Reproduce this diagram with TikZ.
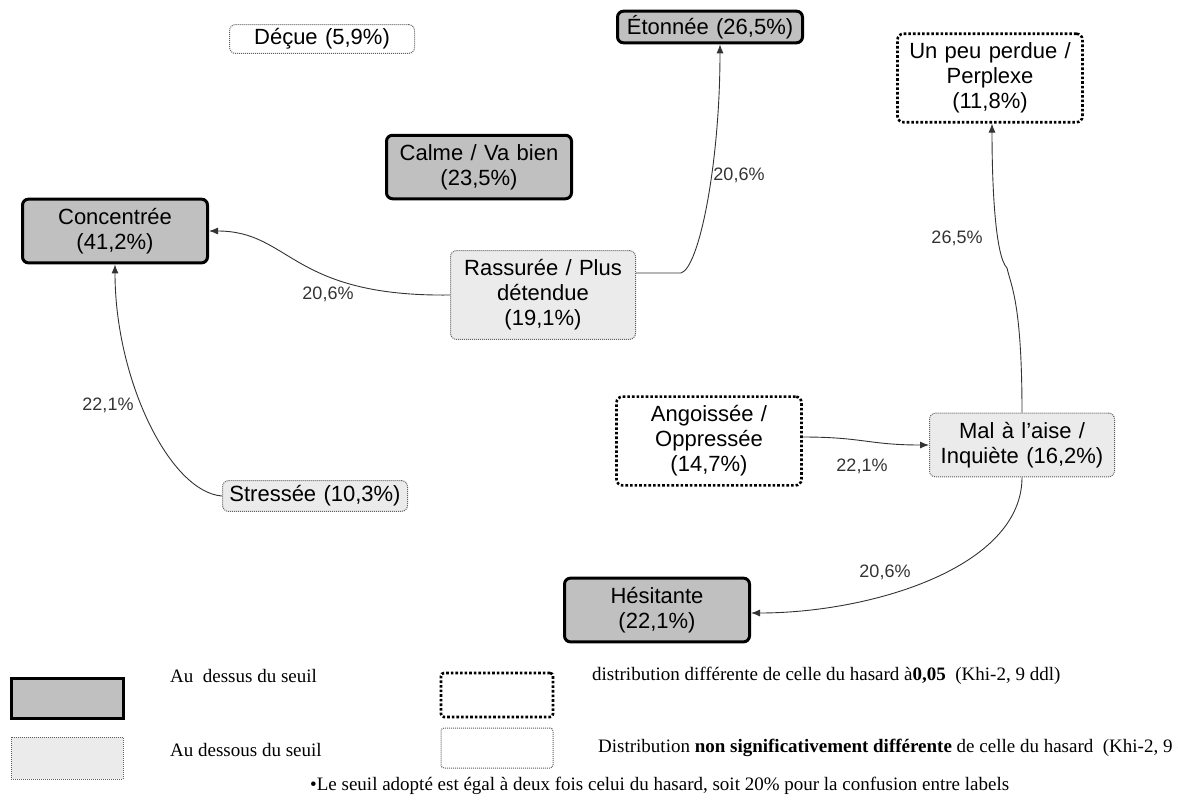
\documentclass[tikz,border=0pt]{standalone}
\usepackage{fontspec}
\setmainfont{Liberation Serif}
\setsansfont{Liberation Sans}
\usepackage{tikz}
\usetikzlibrary{shapes.geometric, arrows.meta, positioning}

\definecolor{fondhaut}{HTML}{C0C0C0}
\definecolor{fondbas}{HTML}{EBEBEB}
\definecolor{traitgris}{HTML}{606060}

\begin{document}
\begin{tikzpicture}[
        x=1pt, y=-1pt,
        node distance=0.75cm,
        ebox/.style={
            rectangle,
            rounded corners=6pt,
            text width=175pt,
            align=center,
            inner xsep=5pt,
            inner ysep=9pt,
            font=\sffamily\fontsize{22}{25}\selectfont
        },
        haut/.style={
            draw=black,
            line width=3pt,
            fill=fondhaut
        },
        bas/.style={
            draw=traitgris,
            densely dotted,
            line width=1pt,
            fill=fondbas
        },
        signif/.style={
            draw=black,
            dotted,
            line width=2.6pt,
            fill=white
        },
        nonsignif/.style={
            draw=traitgris,
            densely dotted,
            line width=1pt,
            fill=white
        },
        legbox/.style={
            rectangle,
            minimum width=112pt,
            minimum height=40pt,
            inner sep=0pt
        },
        legtext/.style={
            anchor=west,
            inner sep=0pt,
            font=\fontsize{19}{22}\selectfont
        },
        pct/.style={
            inner sep=0pt,
            text=black!80,
            font=\sffamily\fontsize{18}{20}\selectfont
        },
        fleche/.style={
            line width=0.9pt,
            draw=black!80,
            -{Latex[length=9pt, width=7pt]}
        }
        ]

        \useasboundingbox (0,0) rectangle (1178,807);
        \clip (0,0) rectangle (1178,807);

        \node (decue) [ebox, nonsignif, inner ysep=4pt] at (322,39) {Déçue (5,9\%)};
        \node (etonnee) [ebox, haut, inner ysep=4pt] at (710,27) {Étonnée (26,5\%)};
        \node (perdue) [ebox, signif] at (990,78) {Un peu perdue /\\Perplexe\\(11,8\%)};
        \node (concentree) [ebox, haut] at (115,231) {Concentrée\\(41,2\%)};
        \node (calme) [ebox, haut] at (479,167) {Calme / Va bien\\(23,5\%)};
        \node (rassuree) [ebox, bas] at (543,295) {Rassurée / Plus\\détendue\\(19,1\%)};
        \node (stressee) [ebox, bas, inner ysep=5pt] at (315,496) {Stressée (10,3\%)};
        \node (angoissee) [ebox, signif] at (709,441) {Angoissée /\\Oppressée\\(14,7\%)};
        \node (malaise) [ebox, bas] at (1022,445) {Mal à l’aise /\\Inquiète (16,2\%)};
        \node (hesitante) [ebox, haut] at (657,610) {Hésitante\\(22,1\%)};

        \coordinate (coude) at (1007,268);

        \draw [fleche] (rassuree.west) .. controls (290,297) and (291,231) .. (concentree.east);
        \draw [fleche] ([yshift=22pt]rassuree.east) -- +(45,0) .. controls +(18,-5) and +(0,120) .. ([xshift=10pt]etonnee.south);
        \draw [fleche] (stressee.west) .. controls (170,492) and (115,380) .. (concentree.south);
        \draw [fleche] ([yshift=4pt]angoissee.east) .. controls +(60,0) and +(-60,0) .. (malaise.west);
        \draw [fleche] (malaise.north) .. controls +(0,-110) and +(4,18) .. (coude) .. controls +(-12,-12) and +(0,60) .. ([xshift=2pt]perdue.south);
        \draw [fleche] (malaise.south) .. controls +(0,90) and +(120,0) .. ([yshift=-3pt]hesitante.east);

        \node (p1) [pct] at (328,294) {20,6\%};
        \node (p2) [pct] at (739,175) {20,6\%};
        \node (p3) [pct] at (108,405) {22,1\%};
        \node (p4) [pct] at (862,466) {22,1\%};
        \node (p5) [pct] at (957,238) {26,5\%};
        \node (p6) [pct] at (885,572) {20,6\%};

        \node (leghaut) [legbox, haut] at (67,698) {};
        \node (legbas) [legbox, bas, minimum height=42pt] at (67,758) {};
        \node (legsig) [legbox, signif, rounded corners=3pt, minimum height=44pt] at (497,695) {};
        \node (legns) [legbox, nonsignif, rounded corners=3pt] at (497,748) {};

        \node (txthaut) [legtext] at (170,676) {Au\ \ dessus du seuil};
        \node (txtbas) [legtext] at (170,750) {Au dessous du seuil};
        \node (txtsig) [legtext] at (592,676) {distribution différente de celle du hasard à\textbf{0,05}\ \ (Khi-2, 9 ddl)};
        \node (txtns) [legtext] at (598,748) {Distribution \textbf{non significativement différente} de celle du hasard\ \ (Khi-2, 9 ddl)};
        \node (note) [legtext] at (310,786) {•Le seuil adopté est égal à deux fois celui du hasard, soit 20\% pour la confusion entre labels};

    \end{tikzpicture}
\end{document}
